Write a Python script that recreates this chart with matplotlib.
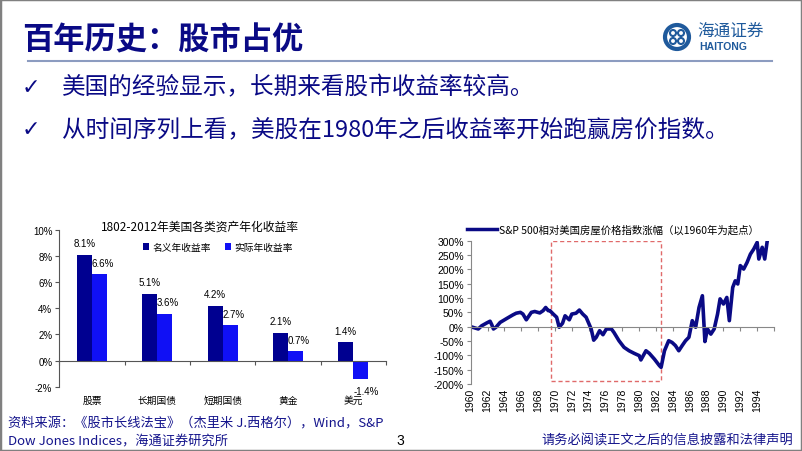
import matplotlib.pyplot as plt
from matplotlib.patches import Rectangle, Ellipse
from matplotlib.lines import Line2D

plt.rcParams['font.family'] = ['Noto Sans CJK SC', 'DejaVu Sans']

W, H = 802, 452

# ---- left chart data
categories = ['股票', '长期国债', '短期国债', '黄金', '美元']
nominal = [8.1, 5.1, 4.2, 2.1, 1.4]
real = [6.6, 3.6, 2.7, 0.7, -1.4]
bar_ticks = [-2, 0, 2, 4, 6, 8, 10]

# ---- right chart data (S&P 500 relative to US house prices, % since 1960)
years = [1960.0, 1960.9, 1961.3, 1961.9, 1962.3, 1962.5, 1962.7, 1963.0, 1963.5,
         1964.3, 1965.0, 1965.4, 1965.9, 1966.2, 1966.6, 1967.2, 1967.6, 1968.2,
         1968.6, 1968.9, 1969.2, 1969.4, 1969.8, 1970.2, 1970.5, 1970.9, 1971.2,
         1971.7, 1972.0, 1972.5, 1972.9, 1973.3, 1973.7, 1974.3, 1974.6, 1974.9,
         1975.3, 1975.7, 1976.1, 1976.7, 1977.0, 1977.6, 1978.2, 1978.8, 1979.4,
         1980.0, 1980.2, 1980.8, 1981.2, 1981.8, 1982.4, 1982.6, 1983.0, 1983.5,
         1983.9, 1984.3, 1984.7, 1985.1, 1985.5, 1985.9, 1986.3, 1986.7, 1987.1,
         1987.5, 1987.8, 1988.1, 1988.5, 1988.9, 1989.3, 1989.6, 1990.0, 1990.4,
         1990.7, 1991.1, 1991.4, 1991.7, 1992.0, 1992.4, 1992.8, 1993.2, 1993.6,
         1994.0, 1994.2, 1994.6, 1994.9, 1995.2]
rel_return = [0, -8, 3, 13, 19, 7, -8, -2, 15,
              29, 41, 47, 50, 44, 24, 50, 53, 48,
              56, 67, 56, 56, 44, 33, -2, 12, 38,
              24, 44, 47, 58, 44, 33, -8, -47, -37,
              -14, -28, -8, -8, -20, -49, -72, -84, -93,
              -101, -116, -84, -93, -113, -136, -142, -84, -49,
              -55, -66, -84, -66, -49, -37, 21, -2, 67,
              108, -52, -8, -26, -8, 44, 97, 79, 102,
              21, 137, 160, 149, 213, 201, 224, 253, 271,
              294, 236, 277, 236, 300]
line_ticks = [-200, -150, -100, -50, 0, 50, 100, 150, 200, 250, 300]
year_labels = list(range(1960, 1995, 2))
box_years = (1969.5, 1982.6)
box_range = (-190, 300)

navy = '#0a0a85'
text_blue = '#14148c'
logo_blue = '#1f5a9c'


def fx(x):
    return x / W


def fy(y):
    return 1 - y / H


fig = plt.figure(figsize=(W / 100, H / 100), dpi=100)

# frame
fig.patches.append(Rectangle((0, 0), 1, 1, transform=fig.transFigure, fill=False,
                             edgecolor='#808080', linewidth=2.5))

# title and rule
fig.text(fx(22), fy(40), '百年历史：股市占优', fontsize=22.5, fontweight='bold',
         color=navy, va='center', ha='left')
fig.add_artist(Line2D([fx(28), fx(772)], [fy(61.5), fy(61.5)], color='#8c9cc0',
                      linewidth=1.5, transform=fig.transFigure))

# logo
fig.patches.append(Ellipse((fx(677), fy(38)), 24 / W, 24 / H,
                           transform=fig.transFigure, fill=False,
                           edgecolor=logo_blue, linewidth=3))
for dx, dy in [(-4, -4), (4, -4), (-4, 4), (4, 4)]:
    fig.patches.append(Ellipse((fx(677 + dx), fy(38 + dy)), 6 / W, 6 / H,
                               transform=fig.transFigure, fill=False,
                               edgecolor=logo_blue, linewidth=1.5))
fig.text(fx(697), fy(31), '海通证券', fontsize=12, color=logo_blue, va='center',
         ha='left', style='italic')
fig.text(fx(699), fy(47), 'HAITONG', fontsize=7.5, fontweight='bold',
         color=logo_blue, va='center', ha='left', family='Liberation Sans')

# bullets
bullets = ['美国的经验显示，长期来看股市收益率较高。',
           '从时间序列上看，美股在1980年之后收益率开始跑赢房价指数。']
for yy, txt in zip([88, 130], bullets):
    fig.text(fx(22), fy(yy), '✓', fontsize=16, color=navy, va='center',
             family='DejaVu Sans')
    fig.text(fx(62), fy(yy), txt, fontsize=17, color=navy, va='center')

# ---------------- left bar chart
ax1 = fig.add_axes([fx(59.3), fy(387.7), fx(386 - 59.3), (387.7 - 231) / H])
xs = list(range(len(categories)))
w = 0.23
ax1.bar([x - w / 2 for x in xs], nominal, width=w, color='#000090',
        label='名义年收益率')
ax1.bar([x + w / 2 for x in xs], real, width=w, color='#1010f5',
        label='实际年收益率')
for x, v in zip(xs, nominal):
    ax1.text(x - w / 2, v + 0.9, f'{v}%', ha='center', va='center', fontsize=7,
             family='Liberation Sans')
for x, v in zip(xs, real):
    if v >= 0:
        ax1.text(x + w / 2 + 0.05, v + 0.85, f'{v}%', ha='center', va='center',
                 fontsize=7, family='Liberation Sans')
    else:
        ax1.text(x + w / 2 + 0.08, v - 0.95, f'{v}%', ha='center', va='center',
                 fontsize=7, family='Liberation Sans')
ax1.set_xlim(-0.5, len(categories) - 0.5)
ax1.set_ylim(-2, 10)
ax1.set_yticks(bar_ticks)
ax1.set_yticklabels([f'{t}%' for t in bar_ticks], fontsize=7,
                    family='Liberation Sans')
ax1.set_xticks([x - 0.5 for x in xs] + [len(categories) - 0.5])
ax1.set_xticklabels([])
ax1.spines['bottom'].set_position(('data', 0))
for s in ['top', 'right']:
    ax1.spines[s].set_visible(False)
for s in ['left', 'bottom']:
    ax1.spines[s].set_color('#555555')
ax1.tick_params(axis='both', length=3, color='#555555', pad=2)
for x, c in zip(xs, categories):
    ax1.text(x, -3.0, c, ha='center', va='center', fontsize=7)
fig.text(fx(200), fy(227.5), '1802-2012年美国各类资产年化收益率', fontsize=8.5,
         ha='center', va='center')
ax1.legend(loc='center', bbox_to_anchor=(fx(218), fy(248)),
           bbox_transform=fig.transFigure, ncol=2, frameon=False, fontsize=7,
           handlelength=0.6, handleheight=0.6, handletextpad=0.3,
           columnspacing=1.5)

# ---------------- right line chart
ax2 = fig.add_axes([fx(470.7), fy(385), fx(774 - 470.7), (385 - 241.7) / H])
ax2.plot(years, rel_return, color=navy, linewidth=2.6, solid_joinstyle='round')
ax2.add_patch(Rectangle((box_years[0], box_range[0]), box_years[1] - box_years[0],
                        box_range[1] - box_range[0], fill=False,
                        edgecolor='#e06a6a', linestyle=(0, (3, 2)), linewidth=1))
ax2.set_xlim(1960, 1995.8)
ax2.set_ylim(-200, 300)
ax2.set_yticks(line_ticks)
ax2.set_yticklabels([f'{t}%' for t in line_ticks], fontsize=7.5,
                    family='Liberation Sans')
ax2.set_xticks(list(range(1960, 1997, 2)))
ax2.set_xticklabels([])
ax2.spines['bottom'].set_position(('data', 0))
for s in ['top', 'right']:
    ax2.spines[s].set_visible(False)
for s in ['left', 'bottom']:
    ax2.spines[s].set_color('#888888')
ax2.tick_params(axis='both', length=3, color='#888888', pad=2)
for yr in year_labels:
    ax2.text(yr, -213, str(yr), rotation=90, ha='center', va='top', fontsize=7.5,
             family='Liberation Sans')
fig.add_artist(Line2D([fx(467), fx(497)], [fy(230), fy(230)], color=navy,
                      linewidth=2.5, transform=fig.transFigure))
fig.text(fx(499), fy(230), 'S&P 500相对美国房屋价格指数涨幅（以1960年为起点）',
         fontsize=7.5, va='center', ha='left')

# footer
fig.text(fx(8), fy(424), '资料来源：《股市长线法宝》（杰里米 J.西格尔），Wind，S&P',
         fontsize=9.5, color=text_blue, va='center')
fig.text(fx(8), fy(441.5), 'Dow Jones Indices，海通证券研究所', fontsize=9.5,
         color=text_blue, va='center')
fig.text(fx(400), fy(441.5), '3', fontsize=10, va='center', ha='center',
         family='Liberation Sans')
fig.text(fx(793), fy(441.5), '请务必阅读正文之后的信息披露和法律声明', fontsize=9.5,
         color=text_blue, va='center', ha='right')

fig.savefig('out.png', dpi=100)
